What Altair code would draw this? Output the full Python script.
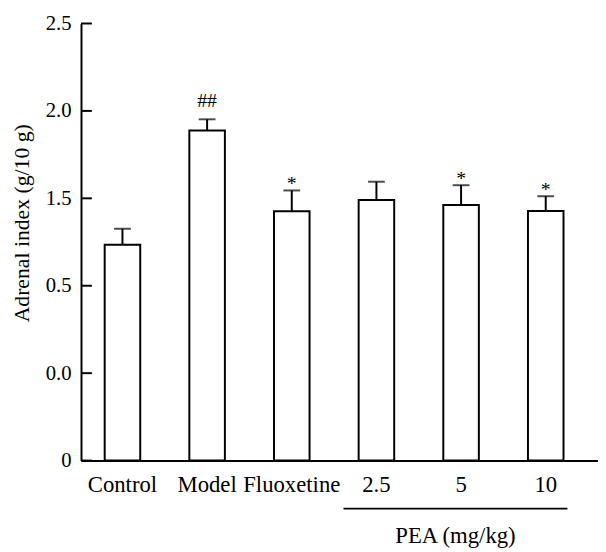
import altair as alt
import pandas as pd

groups = ["Control", "Model", "Fluoxetine", "2.5", "5", "10"]
means = [1.234, 1.888, 1.426, 1.490, 1.462, 1.428]
errors = [0.092, 0.064, 0.119, 0.105, 0.113, 0.084]
marks = ["", "##", "*", "", "*", "*"]

tick_values = [0, 0.5, 1.0, 1.5, 2.0, 2.5]
tick_labels = ["0", "0.0", "0.5", "1.5", "2.0", "2.5"]

FONT = "Liberation Serif"

df = pd.DataFrame({
    "group": groups,
    "mean": means,
    "top": [m + e for m, e in zip(means, errors)],
    "mark": marks,
})
ticks_df = pd.DataFrame({"tick": tick_values})

label_expr = " : ".join(
    [f"datum.value == {v} ? '{l}'" for v, l in zip(tick_values, tick_labels)]
) + " : ''"

xscale = alt.Scale(domain=groups, paddingInner=0.58, paddingOuter=0.3435, align=0.407)
yscale = alt.Scale(domain=[0, 2.5], nice=False)

x_enc = alt.X("group:N", scale=xscale, sort=groups,
              axis=alt.Axis(title=None, ticks=False, labelAngle=0, labelFont=FONT,
                            labelFontSize=23, labelColor="black", domainColor="black",
                            domainWidth=2, labelPadding=13, grid=False))
y_axis = alt.Axis(values=tick_values, labelExpr=label_expr, ticks=False, grid=False,
                  domainColor="black", domainWidth=2, labelPadding=10, labelFont=FONT,
                  labelFontSize=21, labelColor="black",
                  title="Adrenal index (g/10 g)", titleFont=FONT, titleFontSize=22,
                  titleFontWeight="normal", titleColor="black", titleX=-60, titleY=202,
                  titleAngle=-90, titleAlign="center", titleBaseline="middle")

base = alt.Chart(df)

bars = base.mark_bar(fill="white", stroke="black", strokeWidth=2).encode(
    x=x_enc,
    y=alt.Y("mean:Q", scale=yscale, axis=y_axis),
)

err_line = base.mark_rule(color="black", strokeWidth=2).encode(
    x=alt.X("group:N", sort=groups),
    y=alt.Y("mean:Q"),
    y2="top:Q",
)

err_cap = base.mark_tick(color="black", thickness=2, size=17, orient="horizontal").encode(
    x=alt.X("group:N", sort=groups),
    y=alt.Y("top:Q"),
)

hash_text = base.transform_filter(alt.datum.mark == "##").mark_text(
    font=FONT, fontSize=20, color="black", baseline="alphabetic", dy=-12
).encode(x=alt.X("group:N", sort=groups), y="top:Q", text="mark:N")

star_text = base.transform_filter(alt.datum.mark == "*").mark_text(
    font=FONT, fontSize=20, color="black", baseline="alphabetic", dy=0
).encode(x=alt.X("group:N", sort=groups), y="top:Q", text="mark:N")

y_ticks = alt.Chart(ticks_df).mark_rule(color="black", strokeWidth=2).encode(
    y=alt.Y("tick:Q"),
    x=alt.value(0),
    x2=alt.value(11),
)

pea_line = alt.Chart(pd.DataFrame({"a": [0]})).mark_rule(
    color="black", strokeWidth=2, xOffset=-33.4, x2Offset=22
).encode(
    x=alt.X(datum="2.5", type="nominal", bandPosition=0.5),
    x2=alt.X2(datum="10", bandPosition=0.5),
    y=alt.value(491.7),
)

pea_text = alt.Chart(pd.DataFrame({"a": [0]})).mark_text(
    font=FONT, fontSize=23, color="black", baseline="alphabetic", dx=-5.7, text="PEA (mg/kg)"
).encode(
    x=alt.X(datum="5", type="nominal", bandPosition=0.5),
    y=alt.value(526.7),
)

chart = alt.layer(bars, err_line, err_cap, hash_text, star_text, y_ticks, pea_line, pea_text).properties(
    width=524, height=443,
    autosize="none",
    padding={"left": 74, "top": 12, "right": 0, "bottom": 92},
    background="white",
).configure_view(stroke=None)

chart.save("out.html", embed_options={"renderer": "svg", "actions": False})
